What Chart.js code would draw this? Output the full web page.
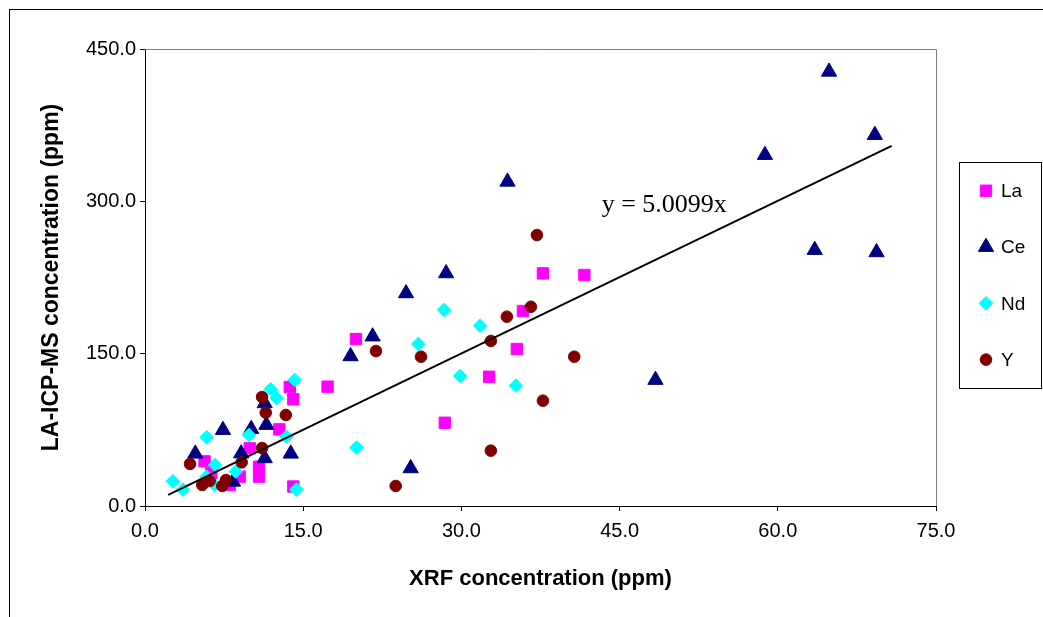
<!DOCTYPE html>
<html>
<head>
<meta charset="utf-8">
<script src="https://cdn.jsdelivr.net/npm/chart.js@4.4.0/dist/chart.umd.min.js"></script>
<style>
  body { margin: 0; background: #fff; }
  canvas { display: block; }
</style>
</head>
<body>
<canvas id="xrfChart" width="1043" height="617"></canvas>
<script>
// values (XRF ppm vs LA-ICP-MS ppm)

const laX = [5.65, 6.29, 8.03, 8.98, 9.93, 10.81, 10.81, 12.74, 13.73, 14.06, 14.06, 17.31, 20.0, 28.42, 32.63, 35.26, 35.83, 37.73, 41.66];
const laY = [44.0, 32.2, 20.7, 28.9, 56.8, 38.7, 28.9, 75.5, 117.2, 105.1, 19.2, 117.5, 164.4, 82.0, 127.3, 154.6, 192.0, 229.1, 227.5];

const ceX = [4.77, 7.39, 8.34, 9.12, 10.07, 11.35, 11.51, 11.35, 13.82, 19.49, 21.58, 24.75, 25.19, 28.55, 34.37, 48.4, 58.78, 63.5, 64.86, 69.2, 69.36];
const ceY = [51.5, 74.8, 23.9, 51.7, 75.8, 101.1, 79.8, 47.0, 51.5, 147.4, 166.9, 209.4, 37.1, 229.1, 319.3, 124.1, 345.6, 252.1, 427.6, 365.3, 249.8];

const ndX = [2.64, 3.59, 5.84, 5.84, 6.65, 6.6, 8.6, 9.86, 11.92, 12.49, 14.2, 13.41, 14.36, 20.06, 25.91, 28.36, 29.88, 31.78, 35.17];
const ndY = [24.3, 16.2, 67.6, 28.9, 40.4, 20.7, 33.8, 69.9, 114.9, 106.3, 124.1, 68.2, 16.2, 57.6, 159.5, 193.0, 128.0, 177.5, 118.5];

const yX = [4.27, 5.43, 6.13, 7.33, 7.68, 9.17, 11.1, 11.1, 11.45, 13.35, 21.9, 23.77, 26.17, 32.79, 32.79, 34.31, 36.59, 37.16, 37.73, 40.7];
const yY = [41.4, 20.7, 24.6, 19.7, 25.6, 43.0, 57.1, 107.3, 91.9, 89.6, 152.6, 19.7, 147.0, 162.5, 54.5, 186.4, 196.2, 266.8, 103.7, 147.0];

// linear trendline through origin, drawn between its two end points
const trendX = [2.2, 70.8];
const trendY = [11.0, 354.7];
const trendLabel = "y = 5.0099x";

const xTicks = [0, 15, 30, 45, 60, 75];
const yTicks = [0, 150, 300, 450];

function pts(xs, ys) {
  return xs.map((x, i) => ({ x: x, y: ys[i] }));
}

const sansFont = "Arial, 'Liberation Sans', sans-serif";

// trendline equation text + legend box (excel style, boxed on the right)
const extrasPlugin = {
  id: "extras",
  beforeDatasetsDraw(chart) {
    const ctx = chart.ctx;
    const a = chart.chartArea;
    ctx.save();
    // outer chart frame
    ctx.strokeStyle = "#000";
    ctx.lineWidth = 1;
    ctx.strokeRect(9.5, 9.5, 1100, 700);
    // plot area top/right edges
    ctx.strokeStyle = "#808080";
    ctx.beginPath();
    ctx.moveTo(a.left, a.top + 0.5);
    ctx.lineTo(a.right + 0.5, a.top + 0.5);
    ctx.lineTo(a.right + 0.5, a.bottom);
    ctx.stroke();
    ctx.restore();
  },
  afterDraw(chart) {
    const ctx = chart.ctx;
    const xs = chart.scales.x;
    const ys = chart.scales.y;
    ctx.save();
    ctx.fillStyle = "#000";
    ctx.font = "26px 'Times New Roman', 'Liberation Serif', serif";
    ctx.textAlign = "left";
    ctx.textBaseline = "middle";
    ctx.fillText(trendLabel, xs.getPixelForValue(43.3), ys.getPixelForValue(296));

    // legend
    const box = { left: 959.5, top: 162.5, width: 82, height: 226 };
    ctx.strokeStyle = "#000";
    ctx.lineWidth = 1;
    ctx.strokeRect(box.left, box.top, box.width, box.height);
    ctx.font = "19px " + sansFont;
    const series = chart.data.datasets.filter((d) => !d.hideInLegend);
    series.forEach((ds, i) => {
      const cy = 190.7 + i * 56.3;
      ctx.fillStyle = ds.backgroundColor;
      ctx.strokeStyle = ds.borderColor;
      Chart.helpers.drawPoint(ctx, {
        pointStyle: ds.pointStyle,
        radius: ds.pointRadius,
        borderWidth: 1,
        rotation: 0,
      }, 986, cy);
      ctx.fillStyle = "#000";
      ctx.fillText(ds.label, 1001, cy + 1);
    });
    ctx.restore();
  },
};

new Chart(document.getElementById("xrfChart"), {
  type: "scatter",
  data: {
    datasets: [
      {
        label: "La",
        data: pts(laX, laY),
        pointStyle: "rect",
        pointRadius: 8,
        backgroundColor: "#FF00FF",
        borderColor: "#FF00FF",
        borderWidth: 1,
        order: 4,
      },
      {
        label: "Ce",
        data: pts(ceX, ceY),
        pointStyle: "triangle",
        pointRadius: 8.8,
        backgroundColor: "#000080",
        borderColor: "#000080",
        borderWidth: 1,
        order: 3,
      },
      {
        label: "Nd",
        data: pts(ndX, ndY),
        pointStyle: "rectRot",
        pointRadius: 6.8,
        backgroundColor: "#00FFFF",
        borderColor: "#00FFFF",
        borderWidth: 1,
        order: 2,
      },
      {
        label: "Y",
        data: pts(yX, yY),
        pointStyle: "circle",
        pointRadius: 5.8,
        backgroundColor: "#800000",
        borderColor: "#800000",
        borderWidth: 1,
        order: 1,
      },
      {
        label: "trend",
        type: "line",
        hideInLegend: true,
        data: pts(trendX, trendY),
        borderColor: "#000",
        borderWidth: 2,
        pointRadius: 0,
        fill: false,
        order: 0,
      },
    ],
  },
  options: {
    responsive: false,
    animation: false,
    layout: {
      padding: { top: 49, right: 107, left: 0, bottom: 0 },
    },
    plugins: {
      legend: { display: false },
      tooltip: { enabled: false },
    },
    scales: {
      x: {
        type: "linear",
        min: 0,
        max: 75,
        afterBuildTicks: (scale) => {
          scale.ticks = xTicks.map((v) => ({ value: v }));
        },
        afterFit: (scale) => {
          scale.height = 111;
        },
        ticks: {
          color: "#000",
          padding: 8,
          font: { size: 20, family: sansFont },
          callback: (v) => v.toFixed(1),
        },
        grid: {
          drawOnChartArea: false,
          tickLength: 5,
          color: "#000",
        },
        border: { color: "#000", width: 1 },
        title: {
          display: true,
          text: "XRF concentration (ppm)",
          color: "#000",
          font: { size: 22, weight: "bold", family: sansFont },
          padding: { top: 0, bottom: 25 },
        },
      },
      y: {
        type: "linear",
        min: 0,
        max: 450,
        afterBuildTicks: (scale) => {
          scale.ticks = yTicks.map((v) => ({ value: v }));
        },
        afterFit: (scale) => {
          scale.width = 145;
        },
        ticks: {
          color: "#000",
          padding: 4,
          font: { size: 20, family: sansFont },
          callback: (v) => v.toFixed(1),
        },
        grid: {
          drawOnChartArea: false,
          tickLength: 5,
          color: "#000",
        },
        border: { color: "#000", width: 1 },
        title: {
          display: true,
          text: "LA-ICP-MS concentration (ppm)",
          color: "#000",
          font: { size: 23, weight: "bold", family: sansFont },
          padding: { top: 38, bottom: 0 },
        },
      },
    },
  },
  plugins: [extrasPlugin],
});
</script>
</body>
</html>
